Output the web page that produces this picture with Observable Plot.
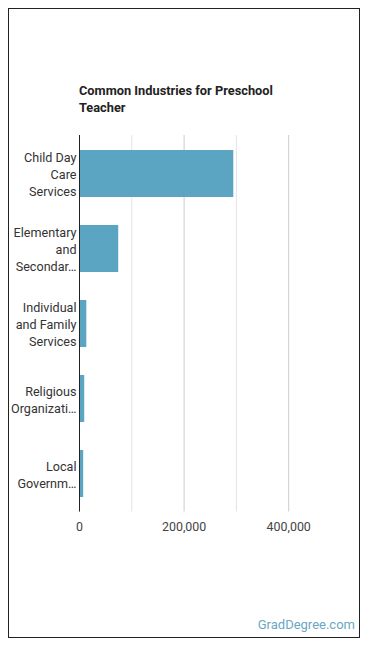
<!DOCTYPE html>
<html>
<head>
<meta charset="utf-8">
<script src="https://cdn.jsdelivr.net/npm/d3@7"></script>
<script src="https://cdn.jsdelivr.net/npm/@observablehq/plot@0.6"></script>
<style>
  html, body { margin: 0; padding: 0; background: #fff; }
  #wrap { position: relative; width: 370px; height: 648px; font-family: Roboto, sans-serif; }
  #frame { position: absolute; left: 8px; top: 8px; width: 350px; height: 628px; border: 1.5px solid #222; box-sizing: content-box; }
  #title { position: absolute; left: 79px; top: 82px; font-size: 12.8px; font-weight: bold; color: #222; line-height: 17px; width: 240px; }
  #credit { position: absolute; right: 15px; top: 617px; font-size: 13px; color: #6aa7c4; }
  #chart { position: absolute; left: 0; top: 0; }
</style>
</head>
<body>
<div id="wrap">
  <div id="frame"></div>
  <div id="chart"></div>
  <div id="title">Common Industries for Preschool Teacher</div>
  <div id="credit">GradDegree.com</div>
</div>
<script>
const industries = [
  "Child Day Care Services",
  "Elementary and Secondary Schools",
  "Individual and Family Services",
  "Religious Organizations",
  "Local Government"
];
const tickLabels = [
  "Child Day\nCare\nServices",
  "Elementary\nand\nSecondar…",
  "Individual\nand Family\nServices",
  "Religious\nOrganizati…",
  "Local\nGovernm…"
];
const employment = [295000, 75000, 14000, 10000, 8000];
const gridTicks = [0, 100000, 200000, 300000, 400000];
const labelTicks = [0, 200000, 400000];

const data = industries.map((d, i) => ({industry: d, value: employment[i]}));
const labelOf = new Map(industries.map((d, i) => [d, tickLabels[i]]));

const chart = Plot.plot({
  width: 370,
  height: 648,
  marginLeft: 79,
  marginRight: 29.5,
  marginTop: 135,
  marginBottom: 136.5,
  style: {fontFamily: "Roboto, sans-serif", background: "transparent"},
  x: {domain: [0, 500000], label: null},
  y: {domain: industries, paddingInner: 0.38, paddingOuter: 0.2, label: null},
  marks: [
    Plot.ruleX(gridTicks, {stroke: (d) => d % 200000 === 0 ? "#ccc" : "#e4e4e4", strokeWidth: 1}),
    Plot.barX(data, {x: "value", y: "industry", fill: "#5ba4c2"}),
    Plot.ruleX([0], {stroke: "#222", strokeWidth: 1}),
    Plot.axisY({
      tickSize: 0, tickPadding: 3, fontSize: 12.6, lineHeight: 1.35, label: null,
      tickFormat: (d) => labelOf.get(d), fill: "#333"
    }),
    Plot.axisX({
      ticks: labelTicks, tickSize: 0, tickPadding: 10, fontSize: 12.4, label: null,
      tickFormat: d3.format(","), fill: "#444"
    })
  ]
});
document.getElementById("chart").appendChild(chart);
</script>
</body>
</html>
